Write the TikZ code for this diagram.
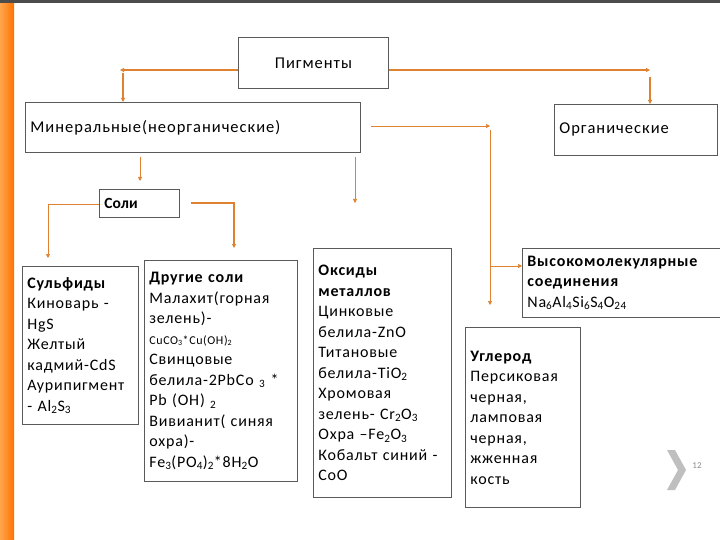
\documentclass[tikz,border=0pt]{standalone}
\usepackage{fontspec}
\setmainfont{Carlito}
\usetikzlibrary{arrows.meta}
\definecolor{org}{RGB}{222,130,50}
\definecolor{edge}{RGB}{90,90,90}
\newcommand{\su}[1]{\textsubscript{#1}}
\begin{document}
\begin{tikzpicture}[x=1pt,y=-1pt,
  box/.style={draw=edge,line width=0.8pt,fill=white,anchor=north west,align=left,inner xsep=5pt,inner ysep=6pt,font=\fontsize{16}{20.5}\selectfont\addfontfeatures{LetterSpace=5}},
  hd/.style={box,inner ysep=8pt,font=\fontsize{16.5}{18}\selectfont\addfontfeatures{LetterSpace=6}},
  ar/.style={draw=org,line width=1.1pt,-{Triangle[length=4pt,width=4pt]}},
  ln/.style={draw=org,line width=1.1pt}]
\useasboundingbox (0,0) rectangle (720,540);
\fill[white] (0,0) rectangle (720,540);
\fill[left color=orange!70!white,right color=orange!90!red] (0,0) rectangle (14,540);
\fill[black!70] (0,0) rectangle (720,3);
% top boxes
\node[hd,minimum width=150pt,minimum height=51pt,align=center,text width=140pt] (pig) at (238,37) {Пигменты};
\node[hd,minimum width=335pt,minimum height=50pt,text width=325pt] (min) at (25,102) {Минеральные(неорганические)};
\node[hd,minimum width=163pt,minimum height=51pt,text width=153pt] (org) at (554,104) {Органические};
\node[hd,inner ysep=5pt,font=\bfseries\fontsize{15.5}{17}\selectfont,minimum width=80pt,minimum height=28pt,text width=70pt] (sol) at (99,189) {Соли};
% bottom boxes
\node[box,minimum width=116pt,minimum height=158pt,text width=106pt] (sul) at (22,266) {\textbf{Сульфиды}\\Киноварь -\\HgS\\Желтый\\кадмий-CdS\\Аурипигмент\\- Al\su{2}S\su{3}};
\node[box,minimum width=153pt,minimum height=221pt,text width=143pt] (oth) at (144,260) {\textbf{Другие соли}\\Малахит(горная\\зелень)-\\{\fontsize{12}{14}\selectfont CuCO\su{3}*Cu(OH)\su{2}}\\Свинцовые\\белила-2PbCo \su{3} *\\Pb (OH) \su{2}\\Вивианит( синяя\\охра)-\\Fe\su{3}(PO\su{4})\su{2}*8H\su{2}O};
\node[box,minimum width=138pt,minimum height=249pt,text width=128pt] (oxi) at (313,248) {\textbf{Оксиды}\\\textbf{металлов}\\Цинковые\\белила-ZnO\\Титановые\\белила-TiO\su{2}\\Хромовая\\зелень- Cr\su{2}O\su{3}\\Охра –Fe\su{2}O\su{3}\\Кобальт синий -\\CoO};
\node[box,minimum width=198pt,minimum height=69pt,text width=190pt] (pol) at (522,248) {\textbf{Высокомолекулярные}\\\textbf{соединения}\\Na\su{6}Al\su{4}Si\su{6}S\su{4}O\su{24}};
\node[box,minimum width=115pt,minimum height=180pt,text width=105pt] (car) at (465,327) {\textbf{Углерод}\\Персиковая\\черная,\\ламповая\\черная,\\жженная\\кость};
\fill[black!25] (667,450) -- (675,450) -- (686,470) -- (675,490) -- (667,490) -- (678,470) -- cycle;
\node[text=black!45,font=\fontsize{9}{10}\selectfont] (num) at (697,466) {12};
% connectors
\coordinate (c1) at (120,70); \coordinate (c2) at (123,73); \coordinate (c3) at (650,70); \coordinate (c4) at (650,77);
\draw[ar] (pig.west |- c1) -- (c1);
\draw[ar] (c2) -- (c2 |- min.north);
\draw[ar] (pig.east |- c3) -- (c3);
\draw[ar] (c4) -- (c4 |- org.north);
\coordinate (m1) at (371,126); \coordinate (m2) at (490,126); \coordinate (m3) at (490,130); \coordinate (m4) at (490,305);
\draw[ar,line width=0.7pt] (m1) -- (m2);
\draw[ar,line width=0.7pt] (m3) -- (m4);
\coordinate (p1) at (490,266);
\draw[ar,line width=0.7pt] (p1) -- (pol.west |- p1);
\coordinate (s1) at (140,157); \coordinate (s2) at (140,181);
\draw[ar,line width=0.7pt] (s1) -- (s2);
\coordinate (o1) at (355,157); \coordinate (o2) at (355,203);
\draw[ar,line width=0.7pt] (o1) -- (o2);
\coordinate (l1) at (48,204); \coordinate (l2) at (48,258);
\draw[ar,line width=0.7pt] (sol.west |- l1) -- (l1) -- (l2);
\coordinate (r1) at (191,203); \coordinate (r2) at (234,203); \coordinate (r3) at (234,248);
\draw[ar] (r1) -- (r2) -- (r3);
\end{tikzpicture}
\end{document}
